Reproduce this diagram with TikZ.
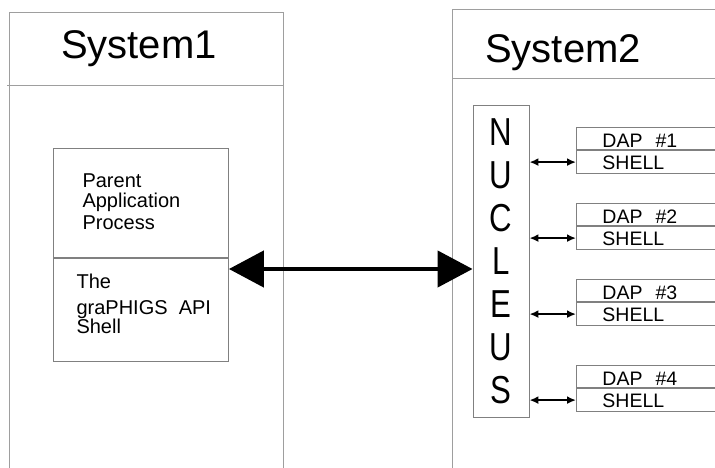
\documentclass[tikz,border=0pt]{standalone}
\usepackage{fontspec}
\setmainfont{Liberation Sans}
\newfontfamily\nucfont[FakeStretch=0.8]{Liberation Sans}
\usetikzlibrary{arrows.meta}
\definecolor{framegray}{gray}{0.62}
\definecolor{boxgray}{gray}{0.5}
\tikzset{
  frame/.style={draw=framegray, line width=1pt},
  inbox/.style={draw=boxgray, line width=0.9pt, rectangle, inner sep=0pt, anchor=north west},
  daptext/.style={inbox, align=left, text width=150pt, inner xsep=26pt, inner ysep=0pt,
    font=\fontsize{19.5}{19}\selectfont},
  bigarrow/.style={line width=4.5pt, {Triangle[length=35pt,width=36pt]}-{Triangle[length=35pt,width=36pt]}},
  smallarrow/.style={line width=2.4pt, {Latex[length=9pt,width=8pt]}-{Latex[length=9pt,width=8pt]}}
}

\begin{document}
\begin{tikzpicture}[x=1pt, y=-1pt]
  \useasboundingbox (0,0) rectangle (715,468);
  \clip (0,0) rectangle (715,468);
  % system frames
  \draw[frame] (9,468) -- (9,13) -- (283,13) -- (283,468);
  \draw[frame] (7,86) -- (283,86);
  \draw[frame] (452,468) -- (452,10) -- (740,10);
  \draw[frame] (452,79) -- (740,79);
  \node[anchor=base, font=\fontsize{40}{44}\selectfont] (sys1) at (139,59) {System1};
  \node[anchor=base, font=\fontsize{40}{44}\selectfont] (sys2) at (563,63) {System2};

  % parent process
  \node[inbox, minimum width=175pt, minimum height=109pt] (parent) at (53,148) {};
  \node[inbox, minimum width=175pt, minimum height=103pt] (api) at (parent.south west) {};
  \node[anchor=base west, align=left, font=\fontsize{20}{21}\selectfont] (parenttxt) at (79,229)
    {Parent\\Application\\Process};
  \node[anchor=base west, align=left, font={\fontsize{20}{18.5}\selectfont\lineskiplimit=-30pt}] (apitxt) at (73,333)
    {The\\[8pt]graPHIGS~~API\\Shell};

  % nucleus
  \node[inbox, anchor=center, minimum width=56pt, minimum height=312pt, align=center,
    font={\nucfont\fontsize{39}{43}\selectfont}] (nucleus) at (501,261)
    {N\\U\\C\\L\\E\\U\\S};

  \coordinate (link) at (0,269);
  \draw[bigarrow] (api.east |- link) -- (nucleus.west |- link);

  % dap shells
  \foreach \i/\t in {1/127, 2/203, 3/279, 4/365} {
    \node[daptext, text height=20.5pt, text depth=1.5pt] (dap\i) at (576,\t) {DAP~~\#\i};
    \node[daptext, text height=19.5pt, text depth=4pt] (shell\i) at (dap\i.south west) {SHELL};
    \draw[smallarrow] (nucleus.east |- shell\i.west) -- (shell\i.west);
  }
\end{tikzpicture}
\end{document}
